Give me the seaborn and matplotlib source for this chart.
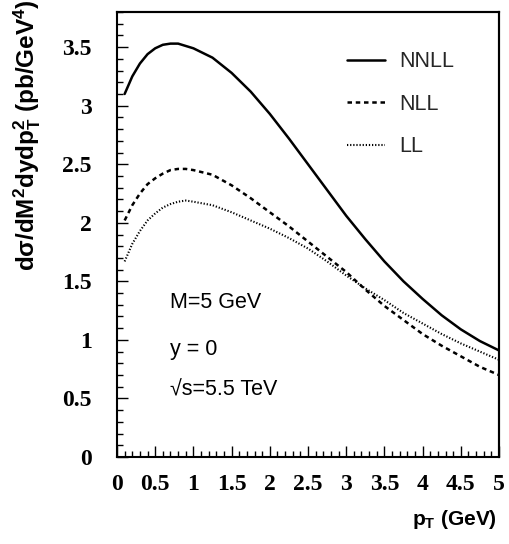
import numpy as np
import pandas as pd
import seaborn as sns
import matplotlib
matplotlib.use("Agg")
import matplotlib.pyplot as plt
from matplotlib.ticker import MultipleLocator, FuncFormatter
from matplotlib.patches import Rectangle

# ---- data ----
pt = [0.1, 0.2, 0.3, 0.4, 0.5, 0.6, 0.7, 0.8, 0.9, 1.0, 1.25, 1.5, 1.75, 2.0,
      2.25, 2.5, 2.75, 3.0, 3.25, 3.5, 3.75, 4.0, 4.25, 4.5, 4.75, 5.0]
nnll = [3.10, 3.25, 3.36, 3.44, 3.49, 3.52, 3.53, 3.53, 3.51, 3.49, 3.41, 3.28, 3.12, 2.93,
        2.72, 2.50, 2.28, 2.06, 1.86, 1.67, 1.50, 1.35, 1.21, 1.09, 0.99, 0.91]
nll = [2.02, 2.15, 2.25, 2.33, 2.38, 2.42, 2.45, 2.46, 2.46, 2.45, 2.41, 2.32, 2.21, 2.09,
       1.97, 1.84, 1.71, 1.58, 1.43, 1.29, 1.17, 1.05, 0.95, 0.86, 0.77, 0.70]
ll = [1.67, 1.82, 1.93, 2.02, 2.08, 2.13, 2.16, 2.18, 2.19, 2.18, 2.15, 2.09, 2.02, 1.95,
      1.87, 1.78, 1.67, 1.55, 1.44, 1.34, 1.23, 1.14, 1.05, 0.97, 0.90, 0.83]
series = ["NNLL", "NLL", "LL"]
annotations = ["M=5 GeV", "y = 0", "\u221as=5.5 TeV"]

df = pd.concat([
    pd.DataFrame({"pt": pt, "val": v, "order": name})
    for name, v in zip(series, [nnll, nll, ll])
])

sns.set_theme(style="ticks")
plt.rcParams["mathtext.fontset"] = "custom"
plt.rcParams["mathtext.rm"] = "Liberation Sans:bold"
plt.rcParams["mathtext.it"] = "Liberation Sans:bold"
plt.rcParams["mathtext.bf"] = "Liberation Sans:bold"

fig = plt.figure(figsize=(5.10, 5.44), dpi=100)
ax = fig.add_axes([117 / 510, 1 - 457 / 544, 382 / 510, 445 / 544])

dashes = {"NNLL": "", "NLL": (1.8, 1.5), "LL": (0.6, 0.9)}
sizes = {"NNLL": 1.8, "NLL": 1.8, "LL": 1.5}
sns.lineplot(data=df, x="pt", y="val", style="order", size="order",
             sizes=sizes, dashes=dashes, style_order=series, size_order=series,
             color="black", ax=ax, legend=True, sort=False)

ax.set_xlim(0, 5)
ax.set_ylim(0, 3.8)
ax.xaxis.set_major_locator(MultipleLocator(0.5))
ax.xaxis.set_minor_locator(MultipleLocator(0.1))
ax.yaxis.set_major_locator(MultipleLocator(0.5))
ax.yaxis.set_minor_locator(MultipleLocator(0.1))
fmt = FuncFormatter(lambda v, p: "%g" % v)
ax.xaxis.set_major_formatter(fmt)
ax.yaxis.set_major_formatter(fmt)
ax.tick_params(which="both", direction="in", top=False, right=False,
               left=True, bottom=True, color="black", width=1.0)
ax.tick_params(which="major", length=8)
ax.tick_params(which="minor", length=4)
ax.tick_params(axis="y", which="major", pad=18)
ax.tick_params(axis="x", which="major", pad=12)
for lab in ax.get_xticklabels() + ax.get_yticklabels():
    lab.set_fontfamily("Liberation Serif")
    lab.set_fontweight("bold")
    lab.set_fontsize(17)
    lab.set_color("black")
for s in ax.spines.values():
    s.set_visible(True)
    s.set_color("black")
    s.set_linewidth(1.5)
# full frame box drawn as explicit lines in axes coordinates
frame_kw = dict(transform=ax.transAxes, color="black", linewidth=1.5,
                clip_on=False, zorder=6, solid_capstyle="projecting")
ax.plot([0, 1], [1, 1], **frame_kw)
ax.plot([1, 1], [0, 1], **frame_kw)

ax.set_ylabel(r"d$\sigma$/dM$^{2}$dydp$_{T}^{2}$ (pb/GeV$^{4}$)".replace(r"$\sigma$", "\u03c3"),
              fontfamily="Liberation Sans", fontweight="bold", fontsize=17.5,
              color="black", loc="top")
ax.yaxis.set_label_coords(-0.195, 1.028)
ax.set_xlabel(r"p$_{T}$ (GeV)", fontfamily="Liberation Sans", fontweight="bold",
              fontsize=15, color="black", loc="right")
ax.xaxis.set_label_coords(0.995, -0.115)

leg = ax.legend(loc="upper left", bbox_to_anchor=(0.602, 0.912), frameon=False,
                handlelength=1.75, handletextpad=0.7, labelspacing=1.0,
                borderpad=0, borderaxespad=0,
                prop={"family": "Liberation Sans", "size": 15.5})
leg.set_title(None)

ys = [303, 350, 390]
for txt, yp in zip(annotations, ys):
    ax.text((170 - 117) / 382, (457 - yp) / 445, txt, transform=ax.transAxes,
            ha="left", va="center", fontsize=15.5, color="black",
            fontfamily=["Liberation Sans", "DejaVu Sans"])

fig.savefig("out.png", dpi=100, facecolor="white")
